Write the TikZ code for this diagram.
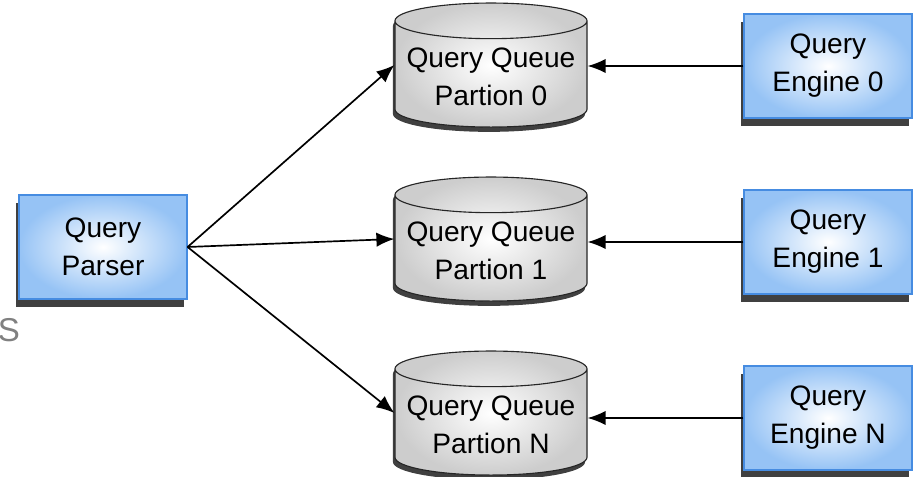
\documentclass[tikz,border=0pt]{standalone}
\usepackage{fontspec}
\setmainfont{Liberation Sans}
\usetikzlibrary{arrows.meta,shapes.geometric,shadows}

\definecolor{boxblue}{RGB}{150,195,245}
\definecolor{boxedge}{RGB}{70,140,225}
\definecolor{cangray}{RGB}{205,205,205}

\begin{document}
\begin{tikzpicture}[x=0.025cm,y=-0.025cm,>={Latex[length=4.5mm,width=3.6mm]},
  txt/.style={align=center,font=\fontsize{20}{27}\selectfont},
  proc/.style={rectangle,txt,draw=boxedge,line width=0.8pt,inner color=white,outer color=boxblue,
    minimum width=4.2cm,minimum height=2.6cm,
    drop shadow={shadow xshift=-0.07cm,shadow yshift=-0.2cm,fill=black!75,opacity=1}},
  queue/.style={cylinder,shape border rotate=90,aspect=0.2,txt,draw=black!85,line width=0.8pt,
    inner color=white,outer color=cangray,minimum width=4.8cm,minimum height=3.1cm,
    drop shadow={shadow xshift=-0.05cm,shadow yshift=-0.12cm,fill=black!75,opacity=1}}]
\useasboundingbox (0,0) rectangle (917,477);
\node[proc] (P) at (103,247) {Query\\Parser};
\node[text=black!50,font=\fontsize{23.5}{23.5}\selectfont,inner sep=0pt] (S) at (9,330) {S};
\node[queue] (Q0) at (491,77) {Query Queue\\Partion 0};
\node[queue] (Q1) at (491,251) {Query Queue\\Partion 1};
\node[queue] (QN) at (491,425) {Query Queue\\Partion N};
\node[proc] (E0) at (828,66) {Query\\Engine 0};
\node[proc] (E1) at (828,242) {Query\\Engine 1};
\node[proc] (EN) at (828,418) {Query\\Engine N};
\draw[->,line width=1.2pt] (P.east) -- ([yshift=0.3cm]Q0.west);
\draw[->,line width=1.2pt] (P.east) -- ([yshift=0.3cm]Q1.west);
\draw[->,line width=1.2pt] (P.east) -- ([yshift=0.3cm]QN.west);
\draw[->,line width=1.2pt] (E0.west) -- (E0.west -| Q0.east);
\draw[->,line width=1.2pt] (E1.west) -- (E1.west -| Q1.east);
\draw[->,line width=1.2pt] (EN.west) -- (EN.west -| QN.east);
\end{tikzpicture}
\end{document}
